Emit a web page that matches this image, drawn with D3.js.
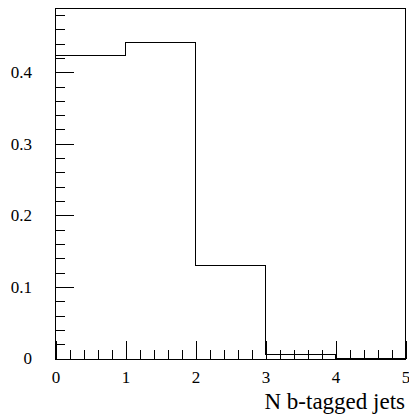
<!DOCTYPE html>
<html>
<head>
<meta charset="utf-8">
<script src="https://cdn.jsdelivr.net/npm/d3@7"></script>
<style>
  html, body { margin: 0; padding: 0; background: #fff; }
  svg { display: block; }
</style>
</head>
<body>
<script>
// ---- data ----
const binEdges = [0, 1, 2, 3, 4, 5];
const binValues = [0.4229, 0.4411, 0.1304, 0.0056, 0.0];
const xTickValues = [0, 1, 2, 3, 4, 5];
const xTickLabels = ["0", "1", "2", "3", "4", "5"];
const yTickValues = [0, 0.1, 0.2, 0.3, 0.4];
const yTickLabels = ["0", "0.1", "0.2", "0.3", "0.4"];
const xTitle = "N b-tagged jets";
const yMax = 0.4904;

const FONT = "'Liberation Serif', 'Times New Roman', serif";
const W = 409, H = 417;
const padL = 56, padR = 406, padT = 8, padB = 359;

const svg = d3.select("body").append("svg").attr("width", W).attr("height", H);

const x = d3.scaleLinear().domain([0, 5]).range([padL, padR]);
const y = d3.scaleLinear().domain([0, yMax]).range([padB, padT]);

// frame
svg.append("rect")
  .attr("x", padL - 0.5).attr("y", padT + 0.5)
  .attr("width", padR - padL).attr("height", padB - padT)
  .attr("fill", "none").attr("stroke", "#000").attr("stroke-width", 1)
  .attr("shape-rendering", "crispEdges");

// histogram step line
const pts = [];
binValues.forEach((v, i) => {
  pts.push([x(binEdges[i]), y(v)]);
  pts.push([x(binEdges[i + 1]), y(v)]);
});
svg.append("path")
  .attr("d", d3.line().x(d => d[0] - 0.5).y(d => d[1] - 0.5)(pts))
  .attr("fill", "none").attr("stroke", "#000").attr("stroke-width", 1)
  .attr("shape-rendering", "crispEdges");

function styleAxis(g) {
  g.attr("font-family", null).attr("font-size", null);
  g.select(".domain").remove();
  g.selectAll("line").attr("stroke", "#000").attr("shape-rendering", "crispEdges");
}

// x axis major ticks + labels
const xAxis = d3.axisBottom(x).tickValues(xTickValues)
  .tickFormat((d, i) => xTickLabels[i]).tickSize(-18);
const gx = svg.append("g").attr("transform", `translate(-0.5,${padB})`).call(xAxis);
styleAxis(gx);
gx.selectAll("text").attr("dy", 0).attr("y", 24)
  .style("font-family", FONT).style("font-size", "17px").attr("fill", "#000");

// x minor ticks
const xMinor = d3.axisBottom(x).tickValues(d3.range(0, 26).map(i => i / 5))
  .tickFormat("").tickSize(-9);
const gxm = svg.append("g").attr("transform", `translate(-0.5,${padB})`).call(xMinor);
styleAxis(gxm);

// y axis major ticks + labels
const yAxis = d3.axisLeft(y).tickValues(yTickValues)
  .tickFormat((d, i) => yTickLabels[i]).tickSize(-18).tickPadding(24);
const gy = svg.append("g").attr("transform", `translate(${padL},-0.5)`).call(yAxis);
styleAxis(gy);
gy.selectAll("text")
  .style("font-family", FONT).style("font-size", "17px").attr("fill", "#000");

// y minor ticks
const yMinor = d3.axisLeft(y).tickValues(d3.range(0, 25).map(i => i / 50))
  .tickFormat("").tickSize(-9);
const gym = svg.append("g").attr("transform", `translate(${padL},-0.5)`).call(yMinor);
styleAxis(gym);

// x title
svg.append("text")
  .attr("x", 405).attr("y", 409)
  .attr("text-anchor", "end")
  .style("font-family", FONT).style("font-size", "23px")
  .attr("fill", "#000")
  .text(xTitle);
</script>
</body>
</html>
